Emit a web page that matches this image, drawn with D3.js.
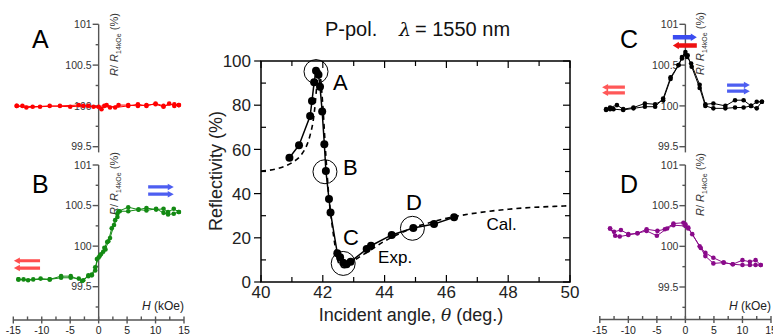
<!DOCTYPE html>
<html><head><meta charset="utf-8">
<script src="https://cdn.jsdelivr.net/npm/d3@7"></script>
<style>body{margin:0;background:#fff}svg{display:block;font-family:Arial,"Liberation Sans",sans-serif}</style>
</head><body><svg id="c" width="773" height="336"></svg>
<script>
// ---------- main chart data ----------
const expTheta = [40.92,41.23,41.59,41.65,41.72,41.78,41.86,41.91,41.98,42.05,42.10,42.20,42.25,42.47,42.56,42.66,42.77,42.90,43.42,43.56,44.23,44.93,45.60,46.25];
const expR     = [56.2,61.9,75.1,81.9,90.4,95.6,93.8,88.4,77.1,62.3,50.2,37.6,31.4,13.0,11.2,8.7,8.0,9.2,14.9,16.4,21.3,24.4,26.2,29.3];
const calTheta = [40.0,40.5,41.0,41.3,41.5,41.6,41.7,41.75,41.8,41.85,41.88,41.93,42.0,42.1,42.2,42.3,42.4,42.5,42.6,42.7,42.8,43.0,43.5,44.0,44.5,45.0,45.5,46.0,46.5,47.0,47.5,48.0,48.5,49.0,49.5,50.0];
const calR     = [50.2,51.2,54.0,57.5,62.5,67,74,80,88,95,96.5,92,80,57,38,26,16,9,7,6.5,7,9.5,14,18.5,22,25,27,28.8,30.2,31.3,32.2,32.9,33.5,33.9,34.2,34.5];
const markLabels = ["A","B","C","D"];
const markTheta  = [41.78,42.07,42.66,44.9];
const markR      = [95.2,49.9,8.4,24.3];
const letterTheta = [42.33,42.65,42.65,44.69];
const letterR     = [86.9,48.4,16.7,32.6];
const xTicksMain = [40,42,44,46,48,50];
const yTicksMain = [0,20,40,60,80,100];

// ---------- side panels data: [H (kOe), R/R14kOe (%)] ----------
const aSweepDown = [[14.1,100.01],[13.3,100.0],[12.4,100.03],[11.4,99.99],[10.0,100.02],[8.4,100.01],[6.9,100.0],[5.2,100.01],[3.5,100.01],[2.0,99.98],[1.0,100.0],[0.5,99.96],[-0.9,99.99],[-2.7,100.0],[-5.0,99.99],[-8.6,100.0],[-11.6,99.99],[-13.4,100.0],[-14.4,100.0]];
const aSweepUp   = [[-14.4,100.0],[-12.7,99.98],[-10.3,99.99],[-6.8,100.0],[-3.5,100.01],[-1.8,100.0],[0,99.99],[1.4,100.01],[2.9,99.98],[5.2,100.0],[6.9,100.02],[8.4,100.0],[10.0,100.03],[11.4,100.0],[13.3,100.02],[14.1,100.01]];
const bSweepUp   = [[-14.1,99.59],[-13.2,99.59],[-11.5,99.59],[-8.6,99.59],[-6.6,99.61],[-4.9,99.61],[-3.5,99.6],[-2.7,99.58],[-1.8,99.63],[-1.2,99.64],[-0.6,99.70],[-0.3,99.84],[0.2,99.88],[0.8,99.93],[1.2,99.96],[1.7,100.06],[2.3,100.22],[2.9,100.32],[3.3,100.40],[3.5,100.43],[5.2,100.48],[7.0,100.45],[8.4,100.47],[10.1,100.45],[11.4,100.46],[12.2,100.42],[13.2,100.46],[14.1,100.42]];
const bSweepDown = [[14.1,100.42],[13.2,100.40],[12.2,100.39],[11.4,100.41],[10.1,100.46],[8.4,100.44],[7.0,100.45],[5.2,100.43],[3.7,100.43],[3.3,100.36],[2.7,100.26],[2.0,100.1],[1.5,100.05],[1.0,99.98],[0.4,99.90],[0,99.86],[-0.6,99.74],[-1.2,99.65],[-1.8,99.64],[-2.9,99.57],[-4.9,99.63],[-6.6,99.63],[-8.6,99.59],[-10.2,99.60],[-12.4,99.58],[-14.1,99.59]];
const cSweepUp   = [[-13.9,99.95],[-13.2,99.98],[-12.0,100.01],[-10.9,99.96],[-9.1,99.98],[-7.1,100.03],[-5.3,100.02],[-3.9,100.07],[-2.6,100.33],[-1.2,100.5],[-0.6,100.58],[0,100.63],[0.4,100.62],[1.1,100.48],[2.5,100.22],[3.5,100.0],[4.9,99.97],[7.0,99.97],[8.7,99.98],[10.2,99.98],[11.5,100.0],[12.5,99.97],[13.4,100.05]];
const cSweepDown = [[13.4,100.05],[12.5,100.05],[11.5,100.0],[10.2,100.07],[8.7,100.07],[7.0,100.0],[4.9,100.03],[3.5,100.02],[2.5,100.26],[1.0,100.52],[0.3,100.6],[0,100.66],[-0.6,100.6],[-1.2,100.5],[-2.6,100.35],[-3.9,100.09],[-5.3,99.99],[-7.1,99.99],[-9.1,99.97],[-10.9,99.95],[-12.6,99.96],[-13.2,99.96],[-13.9,99.96]];
const dSweepDown = [[13.2,99.77],[12.3,99.83],[11.3,99.81],[10.0,99.83],[8.3,99.78],[6.7,99.80],[4.9,99.86],[3.5,99.92],[2.5,100.0],[0.5,100.23],[0,100.27],[-0.35,100.29],[-2.1,100.28],[-3.6,100.21],[-4.9,100.19],[-6.8,100.21],[-8.4,100.16],[-10,100.15],[-11.3,100.2],[-12.5,100.18],[-13.2,100.22]];
const dSweepUp   = [[-13.2,100.22],[-12.3,100.13],[-11.5,100.12],[-10,100.14],[-8.4,100.16],[-6.8,100.19],[-5,100.13],[-3.2,100.22],[-2.1,100.26],[0,100.25],[0.5,100.22],[1.2,100.15],[2.7,99.98],[3.5,99.88],[4.9,99.79],[6.7,99.80],[8.3,99.78],[10,99.77],[11.3,99.77],[12.3,99.77],[13.2,99.77]];
const hTicks = [-15,-10,-5,0,5,10,15];
const rTicks = [99.5,100,100.5,101];

const svg = d3.select("#c");

// ---------- main chart ----------
const x = d3.scaleLinear().domain([40,50]).range([261,570]);
const y = d3.scaleLinear().domain([0,100]).range([282,61]);
const main = svg.append("g");
const ax = main.append("g").attr("stroke","#000").attr("stroke-width",1.2);
// minor/major ticks
d3.range(40,51,1).forEach(v=>{
  const L = v%2===0?7:5;
  ax.append("line").attr("x1",x(v)).attr("x2",x(v)).attr("y1",y(0)).attr("y2",y(0)-L);
  ax.append("line").attr("x1",x(v)).attr("x2",x(v)).attr("y1",y(100)).attr("y2",y(100)+L);
});
d3.range(0,101,10).forEach(v=>{
  if(v%20===0){
    ax.append("line").attr("x1",x(40)-7).attr("x2",x(40)).attr("y1",y(v)).attr("y2",y(v));
  } else {
    ax.append("line").attr("x1",x(40)).attr("x2",x(40)+5).attr("y1",y(v)).attr("y2",y(v));
  }
  ax.append("line").attr("x1",x(50)).attr("x2",x(50)-(v%20===0?7:5)).attr("y1",y(v)).attr("y2",y(v));
});
main.append("rect").attr("x",x(40)).attr("y",y(100)).attr("width",x(50)-x(40)).attr("height",y(0)-y(100))
  .attr("fill","none").attr("stroke","#000").attr("stroke-width",1.5);
main.selectAll(".xt").data(xTicksMain).join("text").attr("x",d=>x(d)).attr("y",298)
  .attr("text-anchor","middle").attr("font-size",17).attr("fill","#222").text(d=>d);
main.selectAll(".yt").data(yTicksMain).join("text").attr("x",251).attr("y",d=>y(d)).attr("dy","0.36em")
  .attr("text-anchor","end").attr("font-size",17).attr("fill","#222").text(d=>d);
main.append("text").attr("transform","translate(222,171) rotate(-90)").attr("text-anchor","middle")
  .attr("font-size",18).attr("fill","#222").text("Reflectivity (%)");
const xt = main.append("text").attr("x",411).attr("y",321).attr("text-anchor","middle").attr("font-size",18).attr("fill","#222");
xt.append("tspan").text("Incident angle, ");
xt.append("tspan").attr("font-style","italic").attr("font-family","'DejaVu Serif',serif").attr("font-size",17).text("θ");
xt.append("tspan").text(" (deg.)");
const tt = main.append("text").attr("y",36).attr("font-size",20).attr("fill","#111");
tt.append("tspan").attr("x",325).text("P-pol.");
tt.append("tspan").attr("x",399).attr("font-style","italic").attr("font-family","'DejaVu Serif',serif").attr("font-size",19).text("λ");
tt.append("tspan").attr("x",415).text("= 1550 nm");

// calculated
const calPts = calTheta.map((t,i)=>[t,calR[i]]);
main.append("path").datum(calPts).attr("fill","none").attr("stroke","#000").attr("stroke-width",1.6)
  .attr("stroke-dasharray","5,4")
  .attr("d",d3.line().x(d=>x(d[0])).y(d=>y(d[1])).curve(d3.curveMonotoneX));
// experimental
const expPts = expTheta.map((t,i)=>[t,expR[i]]);
main.append("path").datum(expPts).attr("fill","none").attr("stroke","#000").attr("stroke-width",1.5)
  .attr("d",d3.line().x(d=>x(d[0])).y(d=>y(d[1])));
main.selectAll(".ep").data(expPts).join("circle").attr("cx",d=>x(d[0])).attr("cy",d=>y(d[1])).attr("r",4).attr("fill","#000");
// circles and letters
main.selectAll(".mc").data(markTheta).join("circle").attr("cx",d=>x(d)).attr("cy",(d,i)=>y(markR[i])).attr("r",12)
  .attr("fill","none").attr("stroke","#000").attr("stroke-width",1);
main.selectAll(".ml").data(markLabels).join("text").attr("x",(d,i)=>x(letterTheta[i])).attr("y",(d,i)=>y(letterR[i]))
  .attr("font-size",22).attr("fill","#000").text(d=>d);
main.append("text").attr("x",x(43.79)).attr("y",y(8.6)).attr("font-size",17).text("Exp.");
main.append("text").attr("x",x(47.3)).attr("y",y(23.5)).attr("font-size",17).text("Cal.");

// ---------- side panels ----------
function arrowPts(x0,x1,yy,t,hw,hl){
  const dir = Math.sign(x1-x0), xb = x1-dir*hl;
  return [[x0,yy-t/2],[xb,yy-t/2],[xb,yy-hw/2],[x1,yy],[xb,yy+hw/2],[xb,yy+t/2],[x0,yy+t/2]];
}
function panel(o){
  const g = svg.append("g");
  const xs = o.xs, ys = o.ys;
  const axc = "#555";
  const a = g.append("g").attr("stroke",axc).attr("stroke-width",1.4);
  a.append("line").attr("x1",xs(0)).attr("x2",xs(0)).attr("y1",ys(101)).attr("y2",ys(o.yEnd));
  d3.range(99.25,101.01,0.25).filter(v=>v>=o.yEnd).forEach(v=>{
    const major = Math.abs(v*2-Math.round(v*2))<1e-6;
    a.append("line").attr("x1",xs(0)-(major?6:3)).attr("x2",xs(0)).attr("y1",ys(v)).attr("y2",ys(v));
  });
  g.selectAll(".rt").data(rTicks).join("text").attr("x",xs(0)-7).attr("y",d=>ys(d)).attr("dy","0.36em")
    .attr("text-anchor","end").attr("font-size",10.5).attr("fill","#333").text(d=>d);
  const lab = g.append("text").attr("transform",`translate(${xs(0)+19},${o.labY}) rotate(-90)`).attr("font-size",11).attr("fill","#333");
  lab.append("tspan").attr("font-style","italic").text("R");
  lab.append("tspan").text("/ ");
  lab.append("tspan").attr("font-style","italic").text("R");
  lab.append("tspan").attr("font-size",7).attr("dy",3).text("14kOe");
  lab.append("tspan").attr("dy",-3).text(" (%)");
  if(o.showX){
    const yA = ys(o.yEnd);
    a.append("line").attr("x1",xs(-15)).attr("x2",xs(15)).attr("y1",yA).attr("y2",yA);
    d3.range(-15,15.01,2.5).forEach(v=>{
      const major = v%5===0;
      a.append("line").attr("x1",xs(v)).attr("x2",xs(v)).attr("y1",yA-3.5).attr("y2",yA+(major?3.5:0));
    });
    g.selectAll(".ht").data(hTicks).join("text").attr("x",d=>xs(d)).attr("y",334).attr("text-anchor","middle")
      .attr("font-size",10.5).attr("fill","#222").text(d=>d);
    const hl = g.append("text").attr("x",xs(15)).attr("y",yA-10).attr("text-anchor","end").attr("font-size",12).attr("fill","#222");
    hl.append("tspan").attr("font-style","italic").text("H");
    hl.append("tspan").text(" (kOe)");
  }
  const line = d3.line().x(d=>xs(d[0])).y(d=>ys(d[1]));
  o.series.forEach(s=>{
    g.append("path").datum(s).attr("fill","none").attr("stroke",o.color).attr("stroke-width",1).attr("d",line);
    g.selectAll(null).data(s).join("circle").attr("cx",d=>xs(d[0])).attr("cy",d=>ys(d[1])).attr("r",2.3).attr("fill",o.color);
  });
  g.append("text").attr("x",o.letX).attr("y",o.letY).attr("font-size",25).attr("fill","#000").text(o.letter);
  (o.arrows||[]).forEach(ar=>{
    g.append("polygon").attr("points",arrowPts(xs(ar[0]),xs(ar[1]),ys(ar[2]),ar[5]||3.2,ar[6]||6.5,ar[7]||6).map(p=>p.join(",")).join(" "))
      .attr("fill",ar[3]).attr("opacity",ar[4]);
  });
}
const xL = d3.scaleLinear().domain([-15,15]).range([13.3,184]);
const xR = d3.scaleLinear().domain([-15,15]).range([599.8,771]);
const yTop = d3.scaleLinear().domain([99.5,101]).range([146.7,24.3]);
const yBotL = d3.scaleLinear().domain([99.5,101]).range([286.7,165]);
const yBotR = d3.scaleLinear().domain([99.5,101]).range([287,165]);
const RED="#ff3b3b", BLUE="#3a4cf0";
panel({xs:xL, ys:yTop, yEnd:99.43, showX:false, color:"#ff0000", series:[aSweepDown,aSweepUp], letter:"A", letX:32, letY:48, labY:76});
panel({xs:xL, ys:yBotL, yEnd:99.09, showX:true, color:"#138a13", series:[bSweepUp,bSweepDown], letter:"B", letX:32, letY:193, labY:215,
  arrows:[[8.7,13.2,100.73,BLUE,0.9],[8.7,13.2,100.64,BLUE,0.9],[-10.3,-14.9,99.82,RED,0.9],[-10.3,-14.9,99.73,RED,0.9]]});
panel({xs:xR, ys:yTop, yEnd:99.43, showX:false, color:"#000", series:[cSweepUp,cSweepDown], letter:"C", letX:620, letY:48, labY:75,
  arrows:[[-10.6,-14.6,100.23,RED,0.85],[-10.6,-14.6,100.16,RED,0.85],[7.3,11.3,100.255,BLUE,0.9],[7.3,11.3,100.18,BLUE,0.9],
          [-2.2,2.0,100.84,BLUE,1,4.5,7.5,6],[2.0,-2.2,100.74,"#ee1111",1,4.5,7.5,6]]});
panel({xs:xR, ys:yBotR, yEnd:99.1, showX:true, color:"#8a0a8a", series:[dSweepDown,dSweepUp], letter:"D", letX:620, letY:193, labY:216});
</script></body></html>
